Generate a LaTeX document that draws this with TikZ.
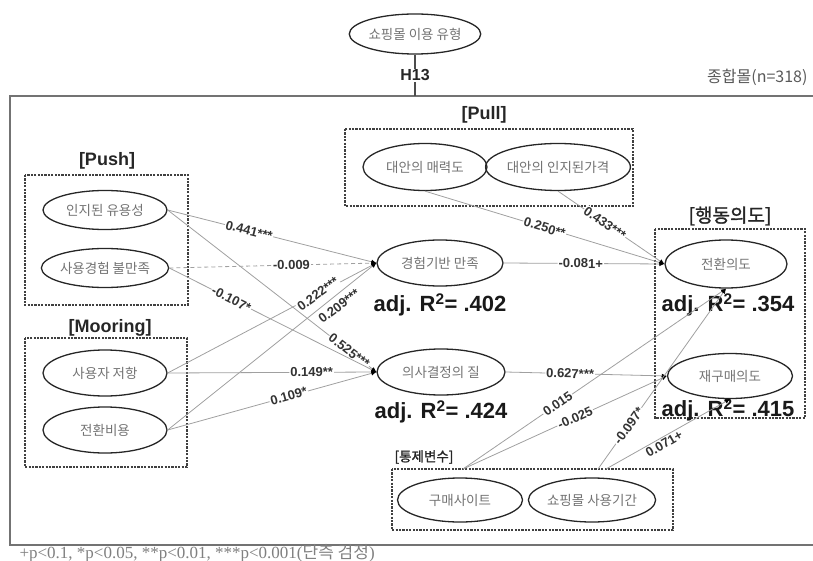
\documentclass[tikz,border=0pt]{standalone}
\usepackage{fontspec}
\setmainfont{Liberation Sans}
\newfontfamily\cjk{Noto Sans CJK KR}
\newfontfamily\cjkb[FakeBold=1.5]{Noto Sans CJK KR}
\newfontfamily\serifft{Liberation Serif}
\usetikzlibrary{shapes.geometric,arrows.meta}
\definecolor{lc}{HTML}{A0A0A0}
\begin{document}
\begin{tikzpicture}[x=1pt,y=-1pt,
  ell/.style={ellipse,draw=black!85,line width=1.3pt,minimum width=124pt,minimum height=40pt,inner sep=0pt,font=\cjk\fontsize{13.5}{15}\selectfont,text=black!55},
  grp/.style={draw=black!75,line width=1.3pt,dash pattern=on 2.2pt off 1.2pt},
  glab/.style={font=\bfseries\fontsize{18}{20}\selectfont,text=black!85},
  arr/.style={draw=lc,line width=0.8pt,-{Latex[length=5pt,width=4.5pt,color=black]}},
  coef/.style={font=\bfseries\fontsize{13}{15}\selectfont,text=black!80,fill=white,inner sep=1pt,sloped},
  rsq/.style={font=\bfseries\fontsize{22}{24}\selectfont,text=black!90}
]
\useasboundingbox (0,0) rectangle (813,561);
\clip (0,0) rectangle (813,561);

% outer frame
\draw[draw=black!55,line width=2.2pt] (10,96) rectangle (830,545);

% top moderator
\node[ell,minimum height=40pt] (type) at (415,34) {쇼핑몰 이용 유형};
\coordinate (ftop) at (415,96);
\draw[draw=black!70,line width=1.5pt] (type) -- node[fill=white,inner sep=1pt,font=\bfseries\fontsize{16}{18}\selectfont,text=black!85] (h13) {H13} (ftop);
\node[anchor=east,font=\cjk\fontsize{16}{18}\selectfont,text=black!65] (total) at (811,77) {종합몰(n=318)};

% group boxes
\draw[grp] (25,175) rectangle (188,305);
\draw[grp] (25,338) rectangle (187,467);
\draw[grp] (345,129) rectangle (633,206);
\draw[grp] (655,229) rectangle (805,418);
\draw[grp] (392,469) rectangle (673,530);

\node[glab] (lpush) at (107,161) {[Push]};
\node[glab] (lmoor) at (110,328) {[Mooring]};
\node[glab] (lpull) at (484,115) {[Pull]};
\node[glab,font=\cjkb\fontsize{19}{21}\selectfont] (lbeh) at (730,216) {[행동의도]};
\node[glab,font=\cjkb\fontsize{13.5}{15}\selectfont] (lctrl) at (424,457) {[통제변수]};

% constructs
\node[ell,minimum height=39pt] (pu) at (105,210) {인지된 유용성};
\node[ell,minimum height=39pt] (ds) at (105,268) {사용경험 불만족};
\node[ell,minimum height=46pt] (ur) at (105,373) {사용자 저항};
\node[ell,minimum height=46pt] (sc) at (105,430) {전환비용};
\node[ell,minimum height=47pt] (aa) at (425,167) {대안의 매력도};
\node[ell,minimum height=47pt,minimum width=126pt] (ap) at (558,167) {대안의 인지된가격};
\node[ell,minimum height=46pt,minimum width=126pt] (es) at (440,263) {경험기반 만족};
\node[ell,minimum height=46pt,minimum width=128pt] (dq) at (441,372) {의사결정의 질};
\node[ell,minimum height=48pt,minimum width=122pt] (si) at (726,264) {전환의도};
\node[ell,minimum height=45pt,minimum width=125pt] (ri) at (730,376) {재구매의도};
\node[ell,minimum height=44pt,minimum width=125pt] (site) at (460,500) {구매사이트};
\node[ell,minimum height=44pt,minimum width=124pt] (dur) at (592,500) {쇼핑몰 사용기간};

\node[rsq] (r1) at (440,305) {adj. R\textsuperscript{2}= .402};
\node[rsq] (r2) at (441,412) {adj. R\textsuperscript{2}= .424};
\node[rsq] (r3) at (728,305) {adj. R\textsuperscript{2}= .354};
\node[rsq] (r4) at (728,410) {adj. R\textsuperscript{2}= .415};

\coordinate (cA) at (463,469);
\coordinate (cB) at (598,469);
\coordinate (cC) at (606,469);

% paths
\draw[arr] (pu.east) -- node[coef,pos=0.39] {0.441***} (es.west);
\draw[arr,dash pattern=on 4pt off 3pt] (ds.east) -- node[coef,pos=0.59] {-0.009} (es.west);
\draw[arr] (ur.east) -- node[coef,pos=0.72,sloped=false,rotate=36] {0.222***} (es.west);
\draw[arr] (sc.east) -- (es.west);
\node[coef,sloped=false,rotate=37,fill=none] (l209) at (339,306) {0.209***};
\draw[arr] (pu.east) -- node[coef,pos=0.87] {0.525***} (dq.west);
\draw[arr] (ds.east) -- node[coef,pos=0.3] {-0.107*} (dq.west);
\draw[arr] (ur.east) -- node[coef,pos=0.69] {0.149**} (dq.west);
\draw[arr] (sc.east) -- node[coef,pos=0.58] {0.109*} (dq.west);
\draw[arr] (aa.south) -- node[coef,pos=0.5] {0.250**} (si.west);
\draw[arr] (ap.south) -- node[coef,pos=0.44] {0.433***} (si.west);
\draw[arr] (es.east) -- node[coef,pos=0.48] {-0.081+} (si.west);
\draw[arr] (dq.east) -- node[coef,pos=0.4] {0.627***} (ri.west);
\draw[arr] (cA) -- node[coef,pos=0.36] {0.015} (si.south);
\draw[arr] (cA) -- node[coef,pos=0.55] {-0.025} (ri.west);
\draw[arr] (cB) -- node[coef,pos=0.24] {-0.097*} (si.south);
\draw[arr] (cC) -- (ri.south);
\node[coef,sloped=false,rotate=30,fill=none] (l071) at (664,444) {0.071+};

% footnote
\node[anchor=west,font=\serifft\fontsize{17}{19}\selectfont,text=black!50] (note) at (16,553) {+p<0.1, *p<0.05, **p<0.01, ***p<0.001({\cjk 단측 검정})};
\end{tikzpicture}
\end{document}
